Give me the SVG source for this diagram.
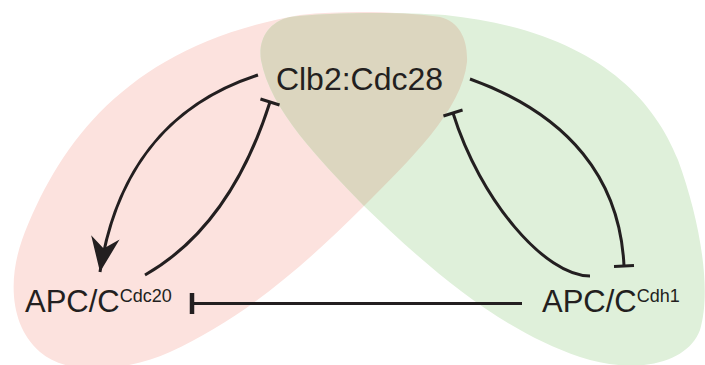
<svg xmlns="http://www.w3.org/2000/svg" width="705" height="365" viewBox="0 0 705 365">
<style>
.lbl{font-family:"Liberation Sans",Arial,sans-serif;fill:#231f20}
.edge{fill:none;stroke:#231f20;stroke-width:3}
</style>
<defs>
<path id="redShape" d="M 440 17 C 460 22 468 40 467 62 C 462 110 410 160 363 207 C 300 270 240 320 170 352 C 130 370 70 378 40 352 C 10 326 8 280 22 240 C 60 140 130 45 300 15 C 350 10 400 12 440 17 Z"/>
<path id="greenShape" d="M 290 17 C 268 22 258 40 261 60 C 270 110 320 160 363 205 C 430 270 500 330 580 357 C 640 376 688 362 700 330 C 712 290 700 220 678 160 C 650 90 585 30 445 15 C 400 12 330 12 290 17 Z"/>
<clipPath id="redClip"><use href="#redShape"/></clipPath>
<marker id="arrow" markerUnits="userSpaceOnUse" markerWidth="40" markerHeight="40" viewBox="-30 -15 32 30" refX="0" refY="0" orient="auto">
<path d="M0,0 L-28,-11.5 L-19,0 L-28,11.5 Z" fill="#231f20"/>
</marker>
<marker id="tbar" markerUnits="userSpaceOnUse" markerWidth="30" markerHeight="30" viewBox="-5 -15 10 30" refX="0" refY="0" orient="auto">
<path d="M0,-10 L0,10" stroke="#231f20" stroke-width="3"/>
</marker>
<marker id="tbarBig" markerUnits="userSpaceOnUse" markerWidth="30" markerHeight="30" viewBox="-5 -15 10 30" refX="0" refY="0" orient="auto">
<path d="M0,-10.5 L0,10.5" stroke="#231f20" stroke-width="4.5"/>
</marker>
</defs>
<g id="regions">
<use href="#redShape" fill="#fce2de"/>
<use href="#greenShape" fill="#dff0da"/>
<use href="#greenShape" fill="#dcd6bf" clip-path="url(#redClip)"/>
</g>
<g id="connectors">
<path class="edge" d="M 258 75 C 165 105 115 175 100 272" marker-end="url(#arrow)"/>
<path class="edge" d="M 145 275 C 215 235 250 165 270 102" marker-end="url(#tbar)"/>
<path class="edge" d="M 470 79 C 570 115 620 180 624 266" marker-end="url(#tbar)"/>
<path class="edge" d="M 590 276 C 545 276 480 200 453 113" marker-end="url(#tbar)"/>
<path class="edge" d="M 522 303.5 L 192 303.5" marker-end="url(#tbarBig)"/>
</g>
<g id="node-clb2">
<text class="lbl" x="359.5" y="90" font-size="32" text-anchor="middle">Clb2:Cdc28</text>
</g>
<g id="node-cdc20">
<text class="lbl" x="25" y="312" font-size="31">APC/C<tspan font-size="18" dy="-10">Cdc20</tspan></text>
</g>
<g id="node-cdh1">
<text class="lbl" x="542" y="312" font-size="31">APC/C<tspan font-size="18" dy="-10">Cdh1</tspan></text>
</g>
</svg>
